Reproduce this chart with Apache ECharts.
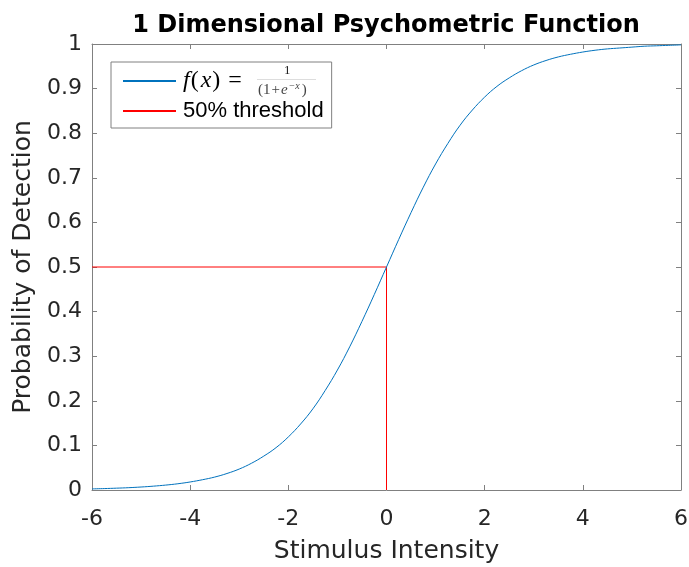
<!DOCTYPE html>
<html>
<head>
<meta charset="utf-8">
<script src="https://cdn.jsdelivr.net/npm/echarts@6/dist/echarts.min.js"></script>
<style>
  html, body { margin: 0; padding: 0; background: #fff; }
  #main { width: 689px; height: 567px; }
</style>
</head>
<body>
<div id="main"></div>
<script>
// values
var stimulus = [-6, -5.75, -5.5, -5.25, -5, -4.75, -4.5, -4.25, -4, -3.75, -3.5, -3.25,
                -3, -2.75, -2.5, -2.25, -2, -1.75, -1.5, -1.25, -1, -0.75, -0.5, -0.25, 0,
                0.25, 0.5, 0.75, 1, 1.25, 1.5, 1.75, 2, 2.25, 2.5, 2.75, 3,
                3.25, 3.5, 3.75, 4, 4.25, 4.5, 4.75, 5, 5.25, 5.5, 5.75, 6]
var detection = [0.0025, 0.0032, 0.0041, 0.0052, 0.0067, 0.0086, 0.011, 0.014, 0.018, 0.023, 0.029, 0.037,
                 0.047, 0.060, 0.076, 0.095, 0.119, 0.148, 0.182, 0.223, 0.269, 0.321, 0.378, 0.438, 0.5,
                 0.562, 0.622, 0.679, 0.731, 0.777, 0.818, 0.852, 0.881, 0.905, 0.924, 0.940, 0.953,
                 0.963, 0.971, 0.977, 0.982, 0.986, 0.989, 0.991, 0.993, 0.995, 0.996, 0.997, 0.998]
var thresholdX = [-6, 0, 0]
var thresholdY = [0.5, 0.5, 0]
var xTicks = ['-6', '-4', '-2', '0', '2', '4', '6']
var yTicks = ['0', '0.1', '0.2', '0.3', '0.4', '0.5', '0.6', '0.7', '0.8', '0.9', '1']

var curveName = 'f(x)'
var threshName = '50% threshold'

var myChart = echarts.init(document.getElementById('main'))

var axisGray = '#808080'
var textDark = '#262626'
var font = 'DejaVu Sans, sans-serif'
var legendFont = 'Liberation Sans, Arial, sans-serif'
var serif = 'Liberation Serif, DejaVu Serif, serif'

function pairs(xs, ys) {
	return xs.map(function (x, i) { return [x, ys[i]] })
}

var baseX = {
	type: 'value', min: -6, max: 6, interval: 2,
	axisLine: { onZero: false, lineStyle: { color: axisGray, width: 1 } },
	axisTick: { inside: true, length: 5, lineStyle: { color: axisGray } },
	splitLine: { show: false }
}
var baseY = {
	type: 'value', min: 0, max: 1, interval: 0.1,
	axisLine: { onZero: false, lineStyle: { color: axisGray, width: 1 } },
	axisTick: { inside: true, length: 5, lineStyle: { color: axisGray } },
	splitLine: { show: false }
}

var option = {
	animation: false,
	title: {
		text: '1 Dimensional Psychometric Function',
		left: 386, top: 14, padding: 0, textAlign: 'center',
		textStyle: { fontFamily: font, fontSize: 24, fontWeight: 'bold', color: '#000' }
	},
	// keep the plot box fixed (no auto shrink for labels)
	grid: { left: 92, right: 8, top: 44, bottom: 77, outerBoundsMode: 'none', containLabel: false },
	legend: {
		orient: 'vertical', left: 111, top: 62,
		padding: [7, 8, 5, 11], itemGap: 6,
		itemWidth: 53, itemHeight: 14,
		backgroundColor: '#fff', borderColor: axisGray, borderWidth: 1,
		selectedMode: false,
		itemStyle: { opacity: 0 },
		data: [curveName, threshName],
		formatter: function (name) {
			if (name === curveName) return '{fi|f}{n1|(}{fi2|x}{n2|)}{eq|=}{gap|}'
			return name
		},
		textStyle: {
			fontFamily: legendFont, fontSize: 22, color: '#000', lineHeight: 24, padding: [0, 0, 0, 2],
			rich: {
				fi: { fontFamily: serif, fontStyle: 'italic', fontSize: 24, lineHeight: 24 },
				fi2: { fontFamily: serif, fontStyle: 'italic', fontSize: 24, lineHeight: 24, padding: [0, 0, 0, 2] },
				n1: { fontFamily: serif, fontSize: 24, lineHeight: 24, padding: [0, 0, 0, 1] },
				n2: { fontFamily: serif, fontSize: 24, lineHeight: 24, padding: [0, 0, 0, 1] },
				eq: { fontFamily: serif, fontSize: 24, lineHeight: 24, padding: [0, 0, 0, 8] },
				gap: { width: 70 }
			}
		}
	},
	xAxis: [
		Object.assign({}, baseX, {
			position: 'bottom',
			name: 'Stimulus Intensity', nameLocation: 'middle', nameGap: 49,
			nameTextStyle: { fontFamily: font, fontSize: 25, color: textDark },
			axisLabel: {
				margin: 18, fontFamily: font, fontSize: 22, color: textDark,
				formatter: function (v) { return xTicks[Math.round((v + 6) / 2)] }
			}
		}),
		Object.assign({}, baseX, { position: 'top', axisLabel: { show: false } })
	],
	yAxis: [
		Object.assign({}, baseY, {
			position: 'left',
			name: 'Probability of Detection', nameLocation: 'middle', nameGap: 50,
			nameTextStyle: { fontFamily: font, fontSize: 25, color: textDark },
			axisLabel: {
				margin: 10, fontFamily: font, fontSize: 22, color: textDark,
				formatter: function (v) { return yTicks[Math.round(v * 10)] }
			}
		}),
		Object.assign({}, baseY, { position: 'right', axisLabel: { show: false } })
	],
	graphic: [
		{ type: 'text', left: 284, top: 64, z: 100,
		  style: { text: '1', fontFamily: serif, fontSize: 13, fill: '#222' } },
		{ type: 'line', z: 100, shape: { x1: 257, y1: 79.5, x2: 316, y2: 79.5 }, style: { stroke: '#bbb', lineWidth: 0.5 } },
		{ type: 'text', left: 258, top: 81, z: 100,
		  style: {
			text: '{n|(1}{p|+}{i|e}{s|−x}{n|)}',
			rich: {
				n: { fontFamily: serif, fontSize: 15, fill: '#444' },
				p: { fontFamily: serif, fontSize: 15, fill: '#444', padding: [0, 1, 0, 1] },
				i: { fontFamily: serif, fontStyle: 'italic', fontSize: 15, fill: '#444' },
				s: { fontFamily: serif, fontStyle: 'italic', fontSize: 10, fill: '#444', padding: [0, 2, 8, 1] }
			}
		  } }
	],
	series: [
		{
			name: curveName, type: 'line',
			data: pairs(stimulus, detection),
			smooth: 0.4,
			symbol: 'none',
			lineStyle: { color: '#0072BD', width: 1 },
			itemStyle: { color: '#0072BD' },
			z: 3
		},
		{
			name: threshName, type: 'line',
			data: pairs(thresholdX, thresholdY),
			symbol: 'none',
			lineStyle: { color: '#FF0000', width: 1 },
			itemStyle: { color: '#FF0000' },
			z: 2
		}
	]
}

myChart.setOption(option)
</script>
</body>
</html>
